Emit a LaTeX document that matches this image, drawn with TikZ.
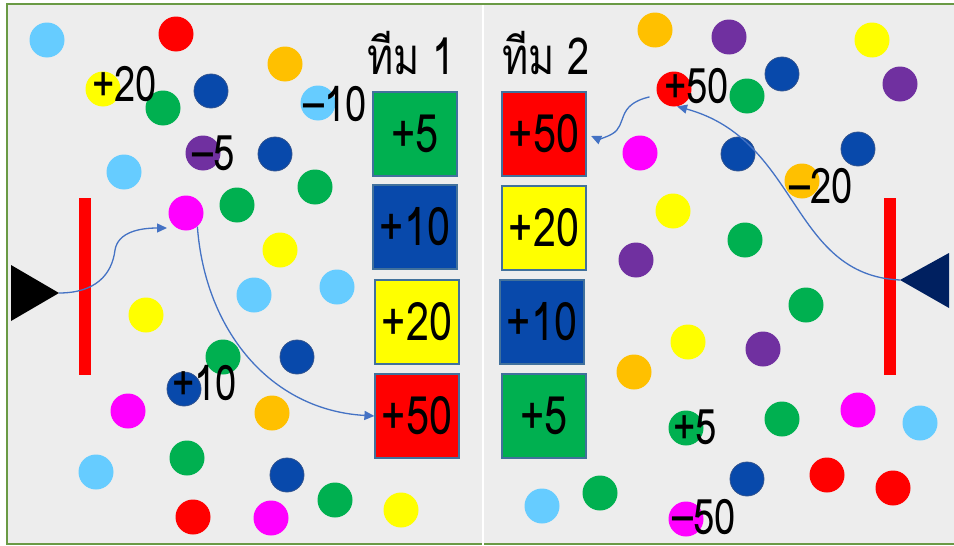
\documentclass[tikz,border=0pt]{standalone}
\usepackage{fontspec}
\newfontfamily\thaifont[Script=Thai, FakeStretch=0.78]{Loma}
\usetikzlibrary{arrows.meta}
\definecolor{cbg}{HTML}{EDEDED}
\definecolor{cframe}{HTML}{6A9A45}
\definecolor{clblue}{HTML}{66CCFF}
\definecolor{cred}{HTML}{FF0000}
\definecolor{corange}{HTML}{FFC000}
\definecolor{cyellow}{HTML}{FFFF00}
\definecolor{cgreen}{HTML}{00B050}
\definecolor{cdblue}{HTML}{0849AB}
\definecolor{cdline}{HTML}{2F528F}
\definecolor{cpurple}{HTML}{7030A0}
\definecolor{cmagenta}{HTML}{FF00FF}
\definecolor{cnavy}{HTML}{002060}
\definecolor{cboxline}{HTML}{41719C}
\definecolor{carrow}{HTML}{4472C4}
\tikzset{
  dot/.style={circle, inner sep=0pt, minimum size=35pt},
  dkdot/.style={dot, fill=cdblue, draw=cdline, line width=0.8pt, minimum size=34pt},
  sq/.style={rectangle, draw=cboxline, line width=1.2pt, minimum width=84pt,
             minimum height=84pt, inner sep=0pt,
             font=\thaifont\fontsize{53}{53}\selectfont},
  pts/.style={font=\thaifont\fontsize{49}{49}\selectfont, inner sep=0pt,
              text depth=0pt, anchor=base west},
  team/.style={font=\thaifont\fontsize{51}{51}\selectfont, inner sep=0pt, anchor=base},
  wall/.style={fill=cred},
  mv/.style={-{Triangle[length=10pt,width=9pt]}, draw=carrow, line width=1.3pt}
}

\begin{document}
\begin{tikzpicture}[x=1pt,y=-1pt]

\useasboundingbox (0,0) rectangle (954,546);
\fill[white] (0,0) rectangle (954,546);
\fill[cbg] (7,4) rectangle (954,544);
\draw[cframe, line width=2pt] (954,4) -- (7,4) -- (7,544) -- (954,544);
\draw[white, line width=1.5pt] (483,5) -- (483,546);

% left field
\node[dot, fill=clblue]   (a1)  at (47,40)   {};
\node[dot, fill=cred]     (a2)  at (176,34)  {};
\node[dot, fill=corange]  (a3)  at (285,64)  {};
\node[dot, fill=cgreen]   (a4)  at (163,108) {};
\node[dot, fill=cyellow]  (a5)  at (103,89)  {};
\node[dkdot]              (a6)  at (211,91)  {};
\node[dot, fill=clblue]   (a7)  at (318,103) {};
\node[dot, fill=cpurple]  (a8)  at (203,153) {};
\node[dkdot]              (a9)  at (275,154) {};
\node[dot, fill=clblue]   (a10) at (124,172) {};
\node[dot, fill=cgreen]   (a11) at (315,187) {};
\node[dot, fill=cmagenta] (m1)  at (186,213) {};
\node[dot, fill=cgreen]   (a12) at (237,205) {};
\node[dot, fill=cyellow]  (a13) at (280,250) {};
\node[dot, fill=clblue]   (a14) at (254,295) {};
\node[dot, fill=clblue]   (a15) at (337,287) {};
\node[dot, fill=cyellow]  (a16) at (146,315) {};
\node[dot, fill=cgreen]   (a17) at (223,357) {};
\node[dkdot]              (a18) at (297,357) {};
\node[dkdot]              (a19) at (184,389) {};
\node[dot, fill=cmagenta] (a20) at (128,411) {};
\node[dot, fill=corange]  (a21) at (272,413) {};
\node[dot, fill=clblue]   (a22) at (96,472)  {};
\node[dot, fill=cgreen]   (a23) at (187,458) {};
\node[dkdot]              (a24) at (287,475) {};
\node[dot, fill=cgreen]   (a25) at (335,500) {};
\node[dot, fill=cyellow]  (a26) at (401,510) {};
\node[dot, fill=cred]     (a27) at (193,517) {};
\node[dot, fill=cmagenta] (a28) at (271,518) {};

% right field
\node[dot, fill=corange]  (b1)  at (655,30)  {};
\node[dot, fill=cpurple]  (b2)  at (729,37)  {};
\node[dot, fill=cyellow]  (b3)  at (872,40)  {};
\node[dkdot]              (b4)  at (782,74)  {};
\node[dot, fill=cpurple]  (b5)  at (900,84)  {};
\node[dot, fill=cgreen]   (b6)  at (747,96)  {};
\node[dot, fill=cred]     (r50) at (674,89)  {};
\node[dot, fill=cmagenta] (b7)  at (640,153) {};
\node[dkdot]              (b8)  at (738,154) {};
\node[dkdot]              (b9)  at (858,149) {};
\node[dot, fill=corange]  (b10) at (802,181) {};
\node[dot, fill=cyellow]  (b11) at (673,211) {};
\node[dot, fill=cgreen]   (b12) at (745,240) {};
\node[dot, fill=cpurple]  (b13) at (636,260) {};
\node[dot, fill=cgreen]   (b14) at (806,305) {};
\node[dot, fill=cyellow]  (b15) at (688,342) {};
\node[dot, fill=cpurple]  (b16) at (763,349) {};
\node[dot, fill=corange]  (b17) at (634,372) {};
\node[dot, fill=cgreen]   (b18) at (782,419) {};
\node[dot, fill=cmagenta] (b19) at (858,410) {};
\node[dot, fill=clblue]   (b20) at (920,423) {};
\node[dot, fill=cgreen]   (b21) at (686,428) {};
\node[dkdot]              (b22) at (747,479) {};
\node[dot, fill=cred]     (b23) at (827,475) {};
\node[dot, fill=cred]     (b24) at (893,488) {};
\node[dot, fill=clblue]   (b25) at (542,506) {};
\node[dot, fill=cgreen]   (b26) at (600,493) {};
\node[dot, fill=cmagenta] (b27) at (686,519) {};

% point labels
\node[pts] (l20)  at (92,101)  {+20};
\node[pts] (l10n) at (303,121) {–10};
\node[pts] (l5n)  at (192,170) {–5};
\node[pts] (l10)  at (172,400) {+10};
\node[pts] (l50)  at (664,103) {+50};
\node[pts] (l20n) at (789,203) {–20};
\node[pts] (l5)   at (673,444) {+5};
\node[pts] (l50n) at (672,534) {–50};

% teams
\node[team] (t1) at (411,74) {ทีม 1};
\node[team] (t2) at (546,74) {ทีม 2};
\node[sq, fill=cgreen]  (t1a) at (415,134) {+5};
\node[sq, fill=cdblue]  (t1b) at (415,227) {+10};
\node[sq, fill=cyellow] (t1c) at (417,322) {+20};
\node[sq, fill=cred]    (t1d) at (417,416) {+50};
\node[sq, fill=cred]    (t2a) at (544,134) {+50};
\node[sq, fill=cyellow] (t2b) at (544,228) {+20};
\node[sq, fill=cdblue]  (t2c) at (542,322) {+10};
\node[sq, fill=cgreen]  (t2d) at (544,416) {+5};

% walls and shooters
\fill[wall] (79,198) rectangle (91,375);
\fill[wall] (884,198) rectangle (896,375);
\fill[black] (11,265) -- (59,293) -- (11,321) -- cycle;
\fill[cnavy] (949,253) -- (900,280) -- (949,308) -- cycle;
\coordinate (ltip) at (59,293);
\coordinate (rtip) at (900,280);

% shots
\draw[mv] (ltip) .. controls (95,293) and (112,275) .. (115,250)
  .. controls (118,232) and (140,228) .. (167,228);
\draw[mv] (m1.-50) .. controls (205,330) and (270,410) .. (t1d.west);
\draw[mv] (rtip) .. controls (790,275) and (800,140) .. (r50.-80);
\draw[mv, shorten <=8pt, shorten >=5pt] (r50.200) .. controls (615,105) and (628,125) .. (612,134)
  .. controls (605,138) and (598,139) .. (t2a.east);

\end{tikzpicture}
\end{document}
